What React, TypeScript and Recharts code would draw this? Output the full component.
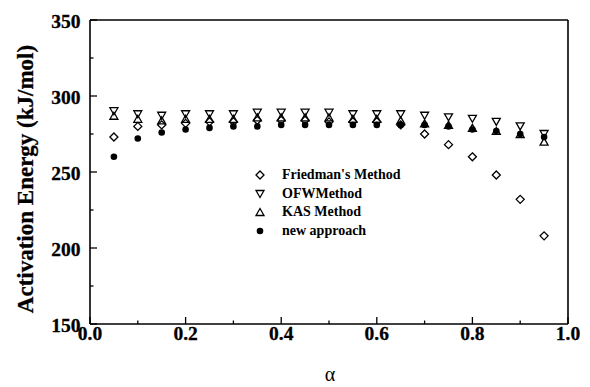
import React from "react";
import { ScatterChart, Scatter, XAxis, YAxis, ReferenceLine, Legend } from "recharts";

const alpha = [0.05, 0.1, 0.15, 0.2, 0.25, 0.3, 0.35, 0.4, 0.45, 0.5, 0.55, 0.6, 0.65, 0.7, 0.75, 0.8, 0.85, 0.9, 0.95];
const friedman = [273, 280, 281, 282, 283, 283, 284, 284, 284, 283, 283, 283, 281, 275, 268, 260, 248, 232, 208];
const ofw = [290, 288, 287, 288, 288, 288, 289, 289, 289, 289, 288, 288, 288, 287, 286, 285, 283, 280, 275];
const kas = [287, 285, 284, 285, 285, 285, 286, 286, 286, 286, 285, 285, 284, 282, 281, 279, 277, 275, 270];
const newApproach = [260, 272, 276, 278, 279, 280, 280, 281, 281, 281, 281, 281, 281, 281, 280, 278, 277, 275, 273];

const xTicks = [0, 0.1, 0.2, 0.3, 0.4, 0.5, 0.6, 0.7, 0.8, 0.9, 1.0];
const xMajor = [0, 0.2, 0.4, 0.6, 0.8, 1.0];
const yTicks = [150, 175, 200, 225, 250, 275, 300, 325, 350];
const yMajor = [150, 200, 250, 300, 350];

const seriesNames = ["Friedman's Method", "OFWMethod", "KAS Method", "new approach"];

const toPoints = (vals: number[]) => alpha.map((a, i) => ({ x: a, y: vals[i] }));

const SERIF = "'Liberation Serif', 'Times New Roman', serif";

const markerPath = (kind: string, cx: number, cy: number) => {
  if (kind === "diamond") return `M${cx},${cy - 4}L${cx + 4},${cy}L${cx},${cy + 4}L${cx - 4},${cy}Z`;
  if (kind === "down") return `M${cx - 4},${cy - 3.5}L${cx + 4},${cy - 3.5}L${cx},${cy + 3.5}Z`;
  return `M${cx - 4},${cy + 3.5}L${cx + 4},${cy + 3.5}L${cx},${cy - 3.5}Z`;
};

const Marker = ({ kind, cx, cy }: { kind: string; cx: number; cy: number }) => {
  if (kind === "circle") return <circle cx={cx} cy={cy} r={3.3} fill="#000" />;
  return <path d={markerPath(kind, cx, cy)} fill="none" stroke="#000" strokeWidth={1.3} />;
};

const kinds = ["diamond", "down", "up", "circle"];

const shapeFor = (kind: string) => (props: any) => <Marker kind={kind} cx={props.cx} cy={props.cy} />;

const XTick = (props: any) => {
  const { x, y, payload } = props;
  const v = payload.value;
  const major = xMajor.some((m) => Math.abs(m - v) < 1e-9);
  return (
    <g>
      <line x1={x} y1={y} x2={x} y2={y - (major ? 7 : 3.5)} stroke="#000" strokeWidth={1.3} />
      {major && (
        <text x={x} y={y + 9.5} textAnchor="middle" dominantBaseline="central" fontFamily={SERIF} fontWeight="bold" fontSize={19.5} fill="#000" stroke="#000" strokeWidth={0.3}>
          {v.toFixed(1)}
        </text>
      )}
    </g>
  );
};

const YTick = (props: any) => {
  const { x, y, payload } = props;
  const v = payload.value;
  const major = yMajor.includes(v);
  return (
    <g>
      <line x1={x} y1={y} x2={x + (major ? 7 : 3.5)} y2={y} stroke="#000" strokeWidth={1.3} />
      {major && (
        <text x={x - 9.5} y={y + 1.5} textAnchor="end" dominantBaseline="central" fontFamily={SERIF} fontWeight="bold" fontSize={19.5} fill="#000" stroke="#000" strokeWidth={0.3}>
          {v}
        </text>
      )}
    </g>
  );
};

const LegendContent = () => (
  <div style={{ fontFamily: SERIF, fontWeight: "bold", fontSize: 14, color: "#000" }}>
    {seriesNames.map((n, i) => (
      <div key={n} style={{ display: "flex", alignItems: "center", height: 18.5, whiteSpace: "nowrap" }}>
        <svg width={14} height={14} style={{ display: "block" }}>
          <Marker kind={kinds[i]} cx={7} cy={7} />
        </svg>
        <span style={{ marginLeft: 15, lineHeight: "18.5px" }}>{n}</span>
      </div>
    ))}
  </div>
);

export default function App() {
  const data = [friedman, ofw, kas, newApproach];
  return (
    <div style={{ width: 582, height: 379 }}>
      <ScatterChart width={582} height={379} margin={{ top: 12, right: 22, bottom: 23, left: 0 }}>
        <XAxis
          type="number"
          dataKey="x"
          domain={[0, 1]}
          ticks={xTicks}
          interval={0}
          tickSize={0}
          tickMargin={0}
          tickLine={false}
          tick={<XTick />}
          height={40}
          axisLine={{ stroke: "#000", strokeWidth: 1.6 }}
          allowDataOverflow
          label={() => (
            <text x={322} y={366} textAnchor="middle" dominantBaseline="central" fontFamily={SERIF} fontSize={20} fill="#000">
              α
            </text>
          )}
        />
        <YAxis
          type="number"
          dataKey="y"
          domain={[150, 350]}
          ticks={yTicks}
          interval={0}
          tickSize={0}
          tickMargin={0}
          tickLine={false}
          tick={<YTick />}
          width={82}
          axisLine={{ stroke: "#000", strokeWidth: 1.6 }}
          allowDataOverflow
          label={() => (
            <text x={17} y={171} transform="rotate(-90, 17, 171)" textAnchor="middle" dominantBaseline="central" fontFamily={SERIF} fontWeight="bold" fontSize={23} fill="#000" stroke="#000" strokeWidth={0.3}>
              Activation Energy (kJ/mol)
            </text>
          )}
        />
        <ReferenceLine y={350} stroke="#000" strokeWidth={1.6} />
        <ReferenceLine x={1} stroke="#000" strokeWidth={1.6} />
        {data.map((vals, i) => (
          <Scatter key={seriesNames[i]} name={seriesNames[i]} data={toPoints(vals)} shape={shapeFor(kinds[i])} isAnimationActive={false} />
        ))}
        <Legend
          layout="vertical"
          align="center"
          verticalAlign="middle"
          content={<LegendContent />}
          wrapperStyle={{ left: 245, top: 158, width: 200 }}
        />
      </ScatterChart>
    </div>
  );
}
